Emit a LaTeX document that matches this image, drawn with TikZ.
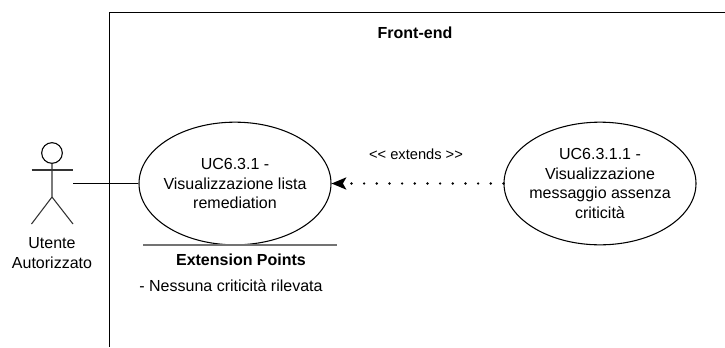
\documentclass[tikz,border=0pt]{standalone}
\usepackage{xcolor}
\usepackage{fontspec}
\setmainfont{Liberation Sans}
\usetikzlibrary{shapes.geometric, arrows.meta}

\begin{document}
\begin{tikzpicture}[x=0.75pt, y=-0.75pt, line width=0.8pt,
	usecase/.style={draw, ellipse, minimum width=144pt, minimum height=92pt, inner sep=-5pt, align=center, font=\fontsize{12}{14.7}\selectfont},
	caption/.style={align=center, font=\fontsize{12}{15}\selectfont}]
	\useasboundingbox (0,0) rectangle (725,347);
	\draw[line width=1.1pt] (725,12.5) -- (109.5,12.5) -- (109.5,347);
	\node[caption, font=\fontsize{12}{15}\selectfont\bfseries] (frontend) at (415,33) {Front-end};
	% actor
	\node[draw, circle, minimum size=15.5pt, inner sep=0pt] (head) at (52,153) {};
	\draw[draw=black!80] (head.south) -- (52,197) -- (31.5,224);
	\draw[draw=black!80] (52,197) -- (73,224);
	\draw[draw=black!80] (31.5,170) -- (73,170);
	\node[caption] (actor) at (52,253) {Utente\\Autorizzato};
	\coordinate (hand) at (73,183.5);
	% use cases
	\node[usecase] (uc1) at (235,183.5) {UC6.3.1 -\\Visualizzazione lista\\remediation};
	\node[usecase] (uc2) at (600,183.5) {UC6.3.1.1 -\\Visualizzazione\\messaggio assenza\\criticità};
	\draw (hand) -- (uc1);
	\draw[-{Stealth[length=11pt, width=9pt, inset=2.5pt]}, line width=2pt, line cap=round, dash pattern=on 0pt off 9.5pt] (uc2) -- (uc1);
	\node[font=\fontsize{11}{12}\selectfont] (extends) at (416,154) {<{}< extends >{}>};
	% extension points
	\coordinate (barl) at (143,245);
	\coordinate (barr) at (337,245);
	\draw[draw=black!55, line width=1.2pt] (barl) -- (barr);
	\node[caption, font=\fontsize{12}{15}\selectfont\bfseries] (extpoints) at (241,260) {Extension Points};
	\node[caption] (none) at (231,286) {- Nessuna criticità rilevata};
\end{tikzpicture}
\end{document}
